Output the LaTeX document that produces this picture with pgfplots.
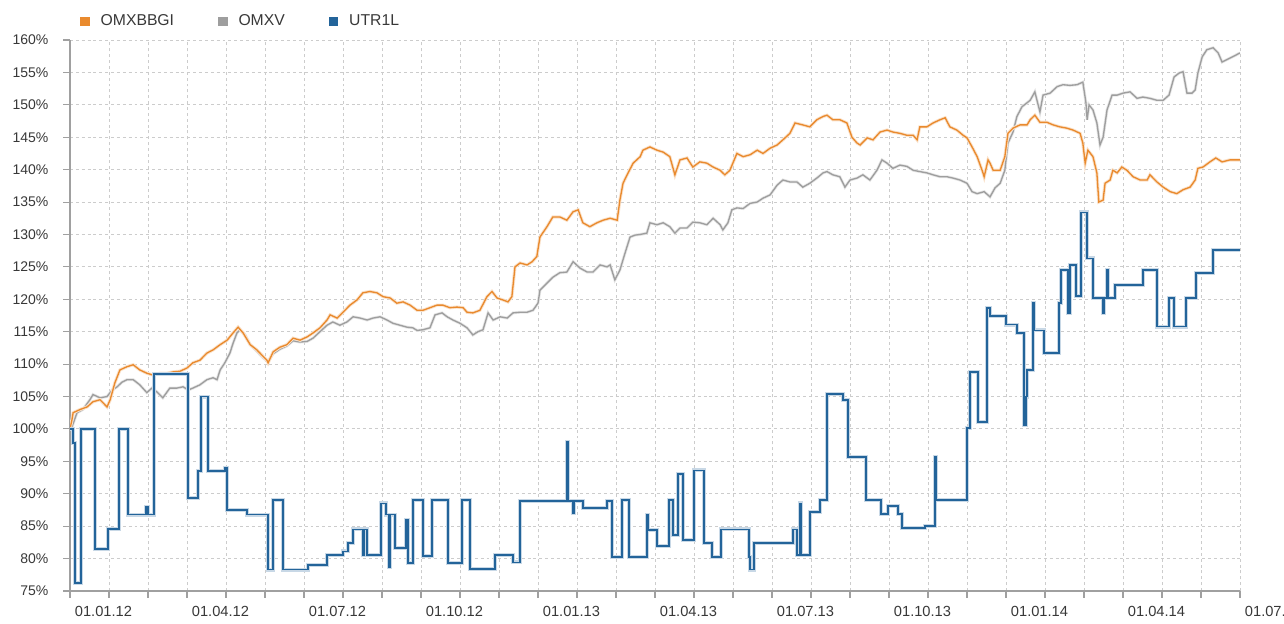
\documentclass[border=0pt]{standalone}
\usepackage{pgfplots}
\pgfplotsset{compat=1.18}
\usepackage{fontspec}
\setmainfont{Liberation Sans}
\definecolor{orangeC}{HTML}{E98A2E}
\definecolor{grayC}{HTML}{9E9E9E}
\definecolor{blueC}{HTML}{23649A}
\definecolor{axisC}{HTML}{A0A0A0}
\definecolor{gridC}{HTML}{CCCCCC}
\definecolor{textC}{HTML}{383838}
\begin{document}
\begin{tikzpicture}
\path[use as bounding box] (0,0) rectangle (963pt,468pt);
\begin{axis}[
  scale only axis, width=877.5pt, height=413.25pt,
  at={(52.5pt,24.75pt)}, anchor=south west,
  xmin=0, xmax=30, ymin=75, ymax=160,
  axis x line*=bottom, axis y line*=left,
  axis line style={draw=axisC, line width=1.1pt, -},
  xtick={0,3,...,30}, minor xtick={0,1,...,30},
  xticklabels={01.01.12,01.04.12,01.07.12,01.10.12,01.01.13,01.04.13,01.07.13,01.10.13,01.01.14,01.04.14,01.07.14},
  ytick={75,80,...,160},
  /pgf/number format/assume math mode=true,
  yticklabel={\pgfmathprintnumber{\tick}\%},
  tick align=outside, major tick length=5pt, minor tick length=5pt,
  every tick/.style={draw=axisC, line width=0.8pt},
  grid=both,
  major grid style={draw=gridC, line width=0.7pt, dash pattern=on 2.2pt off 2.2pt},
  minor grid style={draw=gridC, line width=0.7pt, dash pattern=on 2.2pt off 2.2pt},
  xticklabel style={anchor=north west, inner sep=0pt, xshift=3.5pt, yshift=-6pt, font=\fontsize{11}{13}\selectfont, text=textC},
  yticklabel style={anchor=east, inner sep=0pt, xshift=-11pt, font=\fontsize{10.5}{12}\selectfont, text=textC},
  legend columns=3,
  legend style={at={(0,1)}, anchor=west, xshift=7.5pt, yshift=14pt, draw=none, fill=none, inner sep=0pt,
    font=\fontsize{11.8}{14}\selectfont, text=textC,
    /tikz/every odd column/.append style={column sep=6.5pt},
    /tikz/every even column/.append style={column sep=31pt}},
  legend image code/.code={\fill[#1] (0pt,-3.2pt) rectangle (6.4pt,3.2pt);},
]
\addlegendimage{color=orangeC}
\addlegendentry{OMXBBGI}
\addlegendimage{color=grayC}
\addlegendentry{OMXV}
\addlegendimage{color=blueC}
\addlegendentry{UTR1L}

% OMXV
\addplot[forget plot, color=grayC, line width=1pt, preaction={draw=grayC!25, line width=2.2pt}] coordinates {
(0,100.0) (0.05,100.3) (0.18,102.5) (0.33,103.0) (0.51,104.5) (0.59,105.3) (0.77,104.8) (0.95,105.0)
(1.08,106.0) (1.21,106.5) (1.33,107.2) (1.46,107.6) (1.62,107.6) (1.79,106.8) (1.97,105.6) (2.10,106.3)
(2.23,105.7) (2.38,104.8) (2.56,106.3) (2.74,106.3) (2.90,106.5) (3.03,106.0) (3.15,106.3) (3.33,106.8)
(3.51,107.6) (3.67,107.9) (3.77,107.6) (3.85,109.1) (3.97,110.2) (4.10,111.7) (4.18,113.2) (4.28,114.8)
(4.36,115.3) (4.49,114.5) (4.62,113.0) (4.79,112.0) (4.95,111.0) (5.08,110.4) (5.21,111.6) (5.38,112.3)
(5.56,112.8) (5.72,113.6) (5.90,113.4) (6.08,113.5) (6.23,114.0) (6.41,115.0) (6.59,116.0) (6.74,116.5)
(6.92,116.0) (7.10,116.5) (7.26,117.3) (7.44,117.1) (7.62,116.8) (7.77,117.1) (7.95,117.3) (8.13,116.8)
(8.28,116.3) (8.46,116.0) (8.64,115.7) (8.79,115.6) (8.90,115.2) (9.05,115.3) (9.23,115.6) (9.36,117.6)
(9.54,117.9) (9.67,117.3) (9.82,116.8) (10.00,116.3) (10.18,115.6) (10.33,114.5) (10.46,115.0) (10.59,115.3)
(10.72,117.9) (10.85,116.8) (11.03,117.3) (11.21,117.1) (11.36,117.9) (11.54,118.0) (11.72,118.0) (11.87,118.3)
(12.00,119.4) (12.05,121.4) (12.23,122.5) (12.38,123.4) (12.56,124.1) (12.74,124.2) (12.90,125.8) (13.08,124.8)
(13.26,124.2) (13.41,124.2) (13.59,125.3) (13.77,125.0) (13.85,125.3) (13.97,123.0) (14.10,124.5) (14.23,127.1)
(14.36,129.6) (14.49,129.9) (14.62,130.0) (14.79,130.2) (14.87,131.8) (15.05,131.5) (15.21,131.8) (15.38,131.2)
(15.51,130.2) (15.64,131.0) (15.82,131.0) (15.97,131.9) (16.15,131.8) (16.33,131.5) (16.49,132.5) (16.67,131.5)
(16.74,130.7) (16.87,131.8) (16.97,133.8) (17.10,134.1) (17.26,134.0) (17.44,134.8) (17.62,135.0) (17.77,135.6)
(17.95,136.1) (18.13,137.6) (18.28,138.4) (18.46,138.1) (18.64,138.1) (18.79,137.3) (18.97,137.9) (19.15,138.7)
(19.31,139.5) (19.41,139.7) (19.56,139.2) (19.74,138.9) (19.87,137.3) (20.00,138.4) (20.18,138.7) (20.33,139.2)
(20.51,138.4) (20.69,139.9) (20.82,141.5) (20.95,141.0) (21.10,140.2) (21.28,140.7) (21.46,140.5) (21.62,139.9)
(21.79,139.7) (21.97,139.5) (22.13,139.2) (22.31,138.9) (22.49,138.9) (22.64,138.7) (22.82,138.4) (23.00,137.9)
(23.13,136.6) (23.26,136.3) (23.44,136.6) (23.59,135.8) (23.72,137.2) (23.85,137.9) (23.97,139.9) (24.05,144.1)
(24.18,145.8) (24.28,148.2) (24.41,149.7) (24.62,150.7) (24.74,152.0) (24.87,148.9) (24.95,151.5) (25.13,151.8)
(25.31,152.8) (25.46,153.1) (25.64,153.0) (25.82,153.1) (25.97,153.5) (26.05,150.3) (26.08,147.7) (26.13,150.0)
(26.23,149.2) (26.33,147.2) (26.41,143.8) (26.49,145.0) (26.59,149.2) (26.72,151.5) (26.85,151.5) (27.00,151.8)
(27.18,152.0) (27.36,151.0) (27.51,151.2) (27.69,151.0) (27.87,150.7) (28.03,150.7) (28.18,151.5) (28.31,154.3)
(28.44,154.9) (28.54,155.1) (28.64,151.8) (28.77,151.8) (28.85,152.3) (28.92,154.9) (29.03,157.4) (29.15,158.5)
(29.31,158.8) (29.44,158.0) (29.54,156.6) (29.74,157.2) (30.00,158.0)
};

% OMXBBGI
\addplot[forget plot, color=orangeC, line width=1pt, preaction={draw=orangeC!25, line width=2.4pt}] coordinates {
(0,100.0) (0.05,101.4) (0.08,102.5) (0.26,103.0) (0.44,103.4) (0.59,104.2) (0.77,104.5) (0.95,103.4)
(1.03,104.5) (1.15,107.1) (1.28,109.1) (1.46,109.6) (1.62,109.9) (1.79,109.1) (1.97,108.6) (2.13,108.3)
(2.31,108.6) (2.49,108.6) (2.64,108.8) (2.82,108.9) (3.00,109.4) (3.15,110.2) (3.33,110.6) (3.51,111.7)
(3.67,112.2) (3.85,113.0) (4.03,113.7) (4.18,114.8) (4.31,115.7) (4.44,114.8) (4.62,113.0) (4.79,112.2)
(4.95,111.2) (5.05,110.6) (5.08,110.2) (5.21,111.9) (5.38,112.6) (5.56,113.0) (5.72,114.0) (5.90,113.7)
(6.08,114.2) (6.23,114.8) (6.41,115.6) (6.59,116.8) (6.67,117.6) (6.85,117.1) (7.00,118.0) (7.18,119.1)
(7.36,119.9) (7.51,121.0) (7.69,121.2) (7.87,121.0) (8.03,120.4) (8.21,120.2) (8.38,119.4) (8.54,119.6)
(8.72,119.1) (8.90,118.3) (9.05,118.3) (9.23,118.7) (9.41,119.1) (9.56,119.1) (9.74,118.7) (9.92,118.8)
(10.08,118.7) (10.18,118.0) (10.33,117.9) (10.51,118.3) (10.69,120.4) (10.82,121.2) (10.95,120.2) (11.10,119.9)
(11.23,119.6) (11.33,120.4) (11.41,125.0) (11.54,125.6) (11.72,125.3) (11.85,125.8) (11.97,126.6) (12.05,129.6)
(12.23,131.2) (12.38,132.7) (12.56,132.7) (12.74,132.2) (12.90,133.5) (13.03,133.8) (13.15,131.8) (13.33,131.2)
(13.51,131.8) (13.67,132.2) (13.85,132.5) (14.03,132.2) (14.10,135.3) (14.18,137.9) (14.31,139.5) (14.44,141.0)
(14.62,142.0) (14.69,143.0) (14.87,143.5) (15.05,143.0) (15.21,142.7) (15.38,142.0) (15.51,139.2) (15.64,141.5)
(15.82,141.8) (15.97,140.4) (16.15,141.2) (16.33,141.0) (16.49,140.4) (16.67,139.9) (16.79,139.2) (16.92,139.9)
(17.10,142.5) (17.26,142.0) (17.44,142.3) (17.62,143.0) (17.77,142.5) (17.95,143.3) (18.13,143.8) (18.28,144.6)
(18.46,145.6) (18.59,147.2) (18.79,146.9) (18.97,146.6) (19.15,147.7) (19.31,148.2) (19.41,148.4) (19.56,147.7)
(19.74,147.7) (19.92,147.2) (20.05,145.0) (20.18,144.1) (20.26,143.8) (20.44,144.9) (20.59,144.6) (20.77,145.8)
(20.95,146.1) (21.10,145.8) (21.28,145.6) (21.46,145.3) (21.62,145.3) (21.72,144.6) (21.79,146.6) (21.97,146.6)
(22.13,147.2) (22.31,147.7) (22.44,148.0) (22.56,146.6) (22.74,146.1) (22.90,145.3) (23.00,144.9) (23.13,143.5)
(23.26,142.0) (23.41,139.5) (23.44,138.9) (23.54,141.5) (23.59,141.0) (23.67,139.9) (23.85,139.9) (23.97,142.0)
(24.05,145.6) (24.18,146.4) (24.36,146.9) (24.54,146.9) (24.62,147.7) (24.74,148.4) (24.87,147.3) (25.05,147.3)
(25.21,146.9) (25.38,146.6) (25.56,146.4) (25.72,146.1) (25.90,145.6) (25.97,144.1) (26.03,141.0) (26.10,143.0)
(26.23,142.0) (26.33,139.5) (26.38,135.0) (26.49,135.3) (26.54,137.9) (26.67,138.4) (26.74,139.9) (26.85,139.5)
(26.97,140.4) (27.10,139.9) (27.26,138.9) (27.44,138.4) (27.62,138.4) (27.69,139.2) (27.87,138.1) (28.03,137.3)
(28.21,136.6) (28.38,136.3) (28.54,136.9) (28.72,137.3) (28.85,138.4) (28.92,140.2) (29.05,140.4) (29.23,141.2)
(29.38,141.8) (29.54,141.2) (29.74,141.5) (30.00,141.5)
};

% UTR1L
\addplot[forget plot, const plot, color=blueC, line width=1.3pt, preaction={draw=blueC!25, line width=3pt}] coordinates {
(0.00,100) (0.08,97.8) (0.13,76.2) (0.28,100) (0.64,81.5) (0.97,84.6) (1.26,100) (1.49,86.8)
(1.95,88.0) (2.00,86.8) (2.15,108.5) (3.03,89.3) (3.28,93.5) (3.36,105.0) (3.54,93.5) (3.97,94.0)
(4.03,87.5) (4.54,86.8) (5.08,78.3) (5.21,89.0) (5.46,78.3) (6.10,79.0) (6.59,80.5) (7.00,81.1)
(7.13,82.4) (7.26,84.5) (7.51,80.6) (7.54,84.5) (7.62,80.6) (7.97,88.5) (8.10,86.8) (8.18,78.7)
(8.21,86.8) (8.33,81.6) (8.62,86.0) (8.67,79.3) (8.79,89.0) (9.05,80.4) (9.28,89.0) (9.69,79.3)
(10.05,89.0) (10.26,78.4) (10.90,80.6) (11.36,79.4) (11.54,88.9) (12.74,98.0) (12.77,88.9) (12.90,87.0)
(12.92,88.9) (13.15,87.8) (13.77,88.9) (13.90,80.3) (14.15,89.0) (14.33,80.3) (14.79,86.7) (14.82,84.4)
(15.05,81.9) (15.36,89.0) (15.46,83.6) (15.59,93.0) (15.72,82.9) (16.00,93.6) (16.26,82.4) (16.46,80.2)
(16.69,84.5) (17.41,80.2) (17.44,78.3) (17.54,82.4) (18.54,84.5) (18.64,80.6) (18.72,88.5) (18.74,80.6)
(18.97,87.2) (19.23,89.0) (19.41,105.4) (19.82,104.5) (19.95,95.7) (20.41,89.0) (20.79,86.9) (20.97,88.1)
(21.23,86.9) (21.33,84.7) (21.92,85.0) (22.18,95.7) (22.21,89.0) (23.00,100.1) (23.08,108.8) (23.28,101.1)
(23.51,118.7) (23.59,117.4) (24.00,116.1) (24.28,114.8) (24.46,100.6) (24.51,105.0) (24.54,109.1) (24.69,119.4)
(24.72,115.2) (24.97,111.7) (25.36,119.4) (25.41,124.5) (25.59,117.9) (25.64,125.3) (25.79,120.5) (25.92,133.4)
(26.08,126.3) (26.23,120.2) (26.49,117.9) (26.51,120.2) (26.59,124.5) (26.62,120.2) (26.79,122.2) (27.51,124.5)
(27.87,115.8) (28.18,120.2) (28.31,115.8) (28.62,120.2) (28.87,124.1) (29.31,127.6) (30.00,127.6)
};
\end{axis}
\end{tikzpicture}
\end{document}
